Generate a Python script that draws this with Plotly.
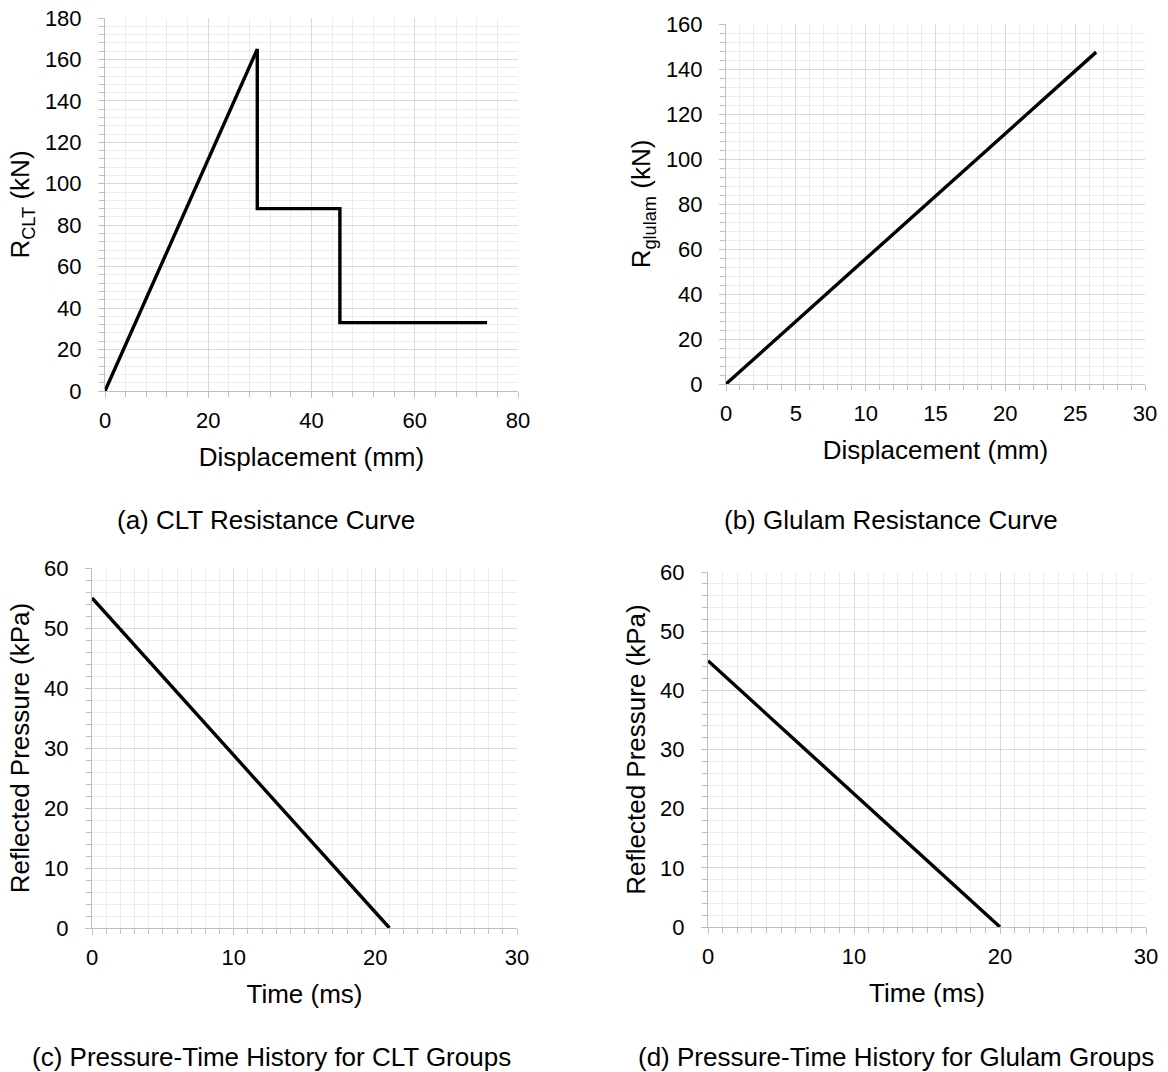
import plotly.graph_objects as go

# ---- data ----
clt_disp = [0, 29.5, 29.5, 45.5, 45.5, 74]
clt_res = [0, 165, 88, 88, 33, 33]

glulam_disp = [0, 26.5]
glulam_res = [0, 147.5]

clt_time = [0, 21]
clt_pressure = [55, 0]

glulam_time = [0, 20]
glulam_pressure = [45, 0]

captions = [
    "(a) CLT Resistance Curve",
    "(b) Glulam Resistance Curve",
    "(c) Pressure-Time History for CLT Groups",
    "(d) Pressure-Time History for Glulam Groups",
]

W, H = 1168, 1072
FONT = "Liberation Sans, Arial, sans-serif"
MAJOR = "#d9d9d9"
MINOR = "#ececec"
AXIS = "#bfbfbf"

def px_x(p):
    return p / W

def px_y(p):
    return 1 - p / H

fig = go.Figure()

series = [
    (clt_disp, clt_res),
    (glulam_disp, glulam_res),
    (clt_time, clt_pressure),
    (glulam_time, glulam_pressure),
]
for i, (xs, ys) in enumerate(series):
    suffix = "" if i == 0 else str(i + 1)
    fig.add_trace(go.Scatter(
        x=xs, y=ys, mode="lines",
        line=dict(color="black", width=3.4),
        xaxis="x" + suffix, yaxis="y" + suffix,
        showlegend=False, hoverinfo="skip",
    ))

# plot area pixel boxes: (left, right, top, bottom)
boxes = [
    (105, 518, 18, 391),
    (726, 1145, 24, 384),
    (92, 517, 568, 928),
    (708, 1146, 572, 927),
]
xspecs = [
    dict(range=[0, 80], dtick=20, minor=4, title="Displacement (mm)"),
    dict(range=[0, 30], dtick=5, minor=1, title="Displacement (mm)"),
    dict(range=[0, 30], dtick=10, minor=1, title="Time (ms)"),
    dict(range=[0, 30], dtick=10, minor=1, title="Time (ms)"),
]
yspecs = [
    dict(range=[0, 180], dtick=20, minor=4, title="R<sub>CLT</sub> (kN)"),
    dict(range=[0, 160], dtick=20, minor=4, title="R<sub>glulam</sub> (kN)"),
    dict(range=[0, 60], dtick=10, minor=2, title="Reflected Pressure (kPa)"),
    dict(range=[0, 60], dtick=10, minor=2, title="Reflected Pressure (kPa)"),
]

def axis_common(spec, standoff):
    return dict(
        range=spec["range"], dtick=spec["dtick"], tick0=0,
        showgrid=True, gridcolor=MAJOR, gridwidth=1,
        showline=True, linecolor=AXIS, linewidth=1,
        ticks="outside", ticklen=6, tickcolor=AXIS, tickwidth=1,
        minor=dict(dtick=spec["minor"], showgrid=True, gridcolor=MINOR,
                   gridwidth=1, ticks="outside", ticklen=5, tickcolor=AXIS),
        zeroline=False, automargin=False,
        ticklabelstandoff=standoff,
        tickfont=dict(family=FONT, size=22, color="#000000"),
        fixedrange=True,
    )

layout = dict(
    width=W, height=H,
    margin=dict(l=0, r=0, t=0, b=0, autoexpand=False),
    paper_bgcolor="white", plot_bgcolor="white",
    font=dict(family=FONT, color="black"),
    showlegend=False,
)

for i in range(4):
    l, r, t, b = boxes[i]
    suffix = "" if i == 0 else str(i + 1)
    xa = axis_common(xspecs[i], 4)
    xa.update(domain=[px_x(l), px_x(r)], anchor="y" + suffix,
              title=dict(text=xspecs[i]["title"], standoff=15,
                         font=dict(family=FONT, size=26, color="black")))
    ya = axis_common(yspecs[i], 12)
    ya.update(domain=[px_y(b), px_y(t)], anchor="x" + suffix,
              title=dict(text=yspecs[i]["title"], standoff=7,
                         font=dict(family=FONT, size=26, color="black")))
    layout["xaxis" + suffix] = xa
    layout["yaxis" + suffix] = ya

fig.update_layout(**layout)

caption_pos = [(266, 520), (891, 520), (271, 1057), (896, 1057)]
for text, (cx, cy) in zip(captions, caption_pos):
    fig.add_annotation(
        text=text, x=px_x(cx), y=px_y(cy), xref="paper", yref="paper",
        showarrow=False, xanchor="center", yanchor="middle",
        font=dict(family=FONT, size=26, color="black"),
    )

fig.write_html("out.html")
